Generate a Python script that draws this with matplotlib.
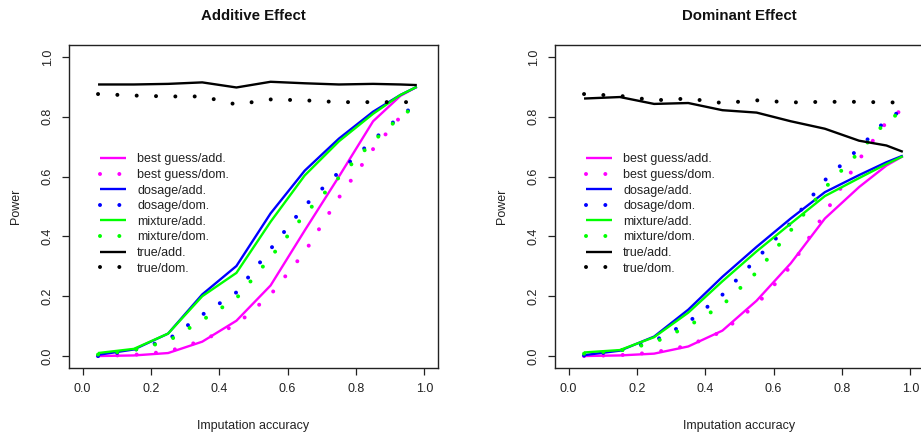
import matplotlib
matplotlib.use("Agg")
import matplotlib.pyplot as plt

plt.rcParams['font.family'] = ['Liberation Sans', 'DejaVu Sans']

# ---------------- data ----------------
acc_add = [0.045, 0.15, 0.25, 0.35, 0.45, 0.55, 0.65, 0.75, 0.85, 0.93, 0.978]
acc_dom = [0.045, 0.15, 0.25, 0.35, 0.45, 0.55, 0.65, 0.75, 0.85, 0.93, 0.967]

labels = ["best guess/add.", "best guess/dom.", "dosage/add.", "dosage/dom.",
          "mixture/add.", "mixture/dom.", "true/add.", "true/dom."]
colors = ["#FF00FF", "#FF00FF", "#0000FF", "#0000FF",
          "#00FF00", "#00FF00", "#000000", "#000000"]

# Additive effect panel
add_bestguess_add = [0.0, 0.002, 0.010, 0.048, 0.118, 0.236, 0.420, 0.600, 0.785, 0.870, 0.900]
add_bestguess_dom = [0.0, 0.004, 0.015, 0.052, 0.105, 0.205, 0.348, 0.530, 0.692, 0.800, 0.830]
add_dosage_add    = [0.004, 0.022, 0.075, 0.206, 0.301, 0.477, 0.620, 0.727, 0.817, 0.873, 0.900]
add_dosage_dom    = [0.0, 0.020, 0.055, 0.138, 0.213, 0.358, 0.502, 0.615, 0.722, 0.803, 0.833]
add_mixture_add   = [0.010, 0.024, 0.075, 0.200, 0.278, 0.449, 0.604, 0.718, 0.810, 0.873, 0.900]
add_mixture_dom   = [0.005, 0.020, 0.050, 0.120, 0.193, 0.330, 0.474, 0.597, 0.718, 0.800, 0.830]
add_true_add      = [0.908, 0.908, 0.910, 0.915, 0.898, 0.917, 0.912, 0.908, 0.910, 0.908, 0.906]
add_true_dom      = [0.876, 0.871, 0.868, 0.868, 0.841, 0.858, 0.855, 0.849, 0.849, 0.849, 0.849]

# Dominant effect panel
dom_bestguess_add = [0.0, 0.002, 0.008, 0.032, 0.085, 0.185, 0.310, 0.460, 0.565, 0.637, 0.668]
dom_bestguess_dom = [0.0, 0.003, 0.012, 0.035, 0.082, 0.172, 0.300, 0.478, 0.657, 0.782, 0.817]
dom_dosage_add    = [0.003, 0.018, 0.065, 0.155, 0.265, 0.365, 0.460, 0.548, 0.605, 0.648, 0.670]
dom_dosage_dom    = [0.002, 0.018, 0.050, 0.113, 0.205, 0.325, 0.445, 0.588, 0.695, 0.790, 0.816]
dom_mixture_add   = [0.012, 0.020, 0.063, 0.145, 0.250, 0.350, 0.443, 0.535, 0.595, 0.642, 0.668]
dom_mixture_dom   = [0.008, 0.018, 0.045, 0.100, 0.170, 0.280, 0.420, 0.562, 0.682, 0.785, 0.812]
dom_true_add      = [0.861, 0.866, 0.843, 0.846, 0.822, 0.814, 0.785, 0.760, 0.720, 0.704, 0.683]
dom_true_dom      = [0.876, 0.870, 0.855, 0.861, 0.846, 0.855, 0.848, 0.850, 0.850, 0.848, 0.848]

panels = [
    ("Additive Effect", [add_bestguess_add, add_bestguess_dom, add_dosage_add, add_dosage_dom,
                         add_mixture_add, add_mixture_dom, add_true_add, add_true_dom]),
    ("Dominant Effect", [dom_bestguess_add, dom_bestguess_dom, dom_dosage_add, dom_dosage_dom,
                         dom_mixture_add, dom_mixture_dom, dom_true_add, dom_true_dom]),
]
ticks = [0.0, 0.2, 0.4, 0.6, 0.8, 1.0]
tick_labels = ["0.0", "0.2", "0.4", "0.6", "0.8", "1.0"]

# ---------------- figure ----------------
W, H = 921, 434
fig = plt.figure(figsize=(W / 100, H / 100), dpi=100)

ax_w = 369 / W
ax_h = 323 / H
ax_b = 66 / H
lefts = [69 / W, 555 / W]

SOLID_LW = 1.7
DOT_LW = 2.9
DOT_STYLE = (0, (0.001, 4.8))
FS = 9

for (title, series), left in zip(panels, lefts):
    ax = fig.add_axes([left, ax_b, ax_w, ax_h])
    for i, (lab, col, y) in enumerate(zip(labels, colors, series)):
        if i % 2 == 0:
            ax.plot(acc_add, y, color=col, lw=SOLID_LW, label=lab, solid_capstyle='butt')
        else:
            ax.plot(acc_dom, y, color=col, lw=DOT_LW, ls=DOT_STYLE,
                    dash_capstyle='round', label=lab)
    ax.set_xlim(-0.04, 1.04)
    ax.set_ylim(-0.04, 1.04)
    ax.set_xticks(ticks)
    ax.set_xticklabels(tick_labels)
    ax.set_yticks(ticks)
    ax.set_yticklabels(tick_labels, rotation=90, va='center')
    ax.tick_params(axis='both', direction='out', length=5, width=0.9,
                   labelsize=FS, colors='#222222', pad=6)
    for sp in ax.spines.values():
        sp.set_linewidth(1.0)
        sp.set_color('#222222')
    ax.set_title(title, fontsize=10.8, fontweight='bold', pad=18, color='#111111')
    ax.set_xlabel("Imputation accuracy", fontsize=FS, labelpad=18, color='#222222')
    ax.set_ylabel("Power", fontsize=FS, labelpad=14, color='#222222')
    leg = ax.legend(loc='upper left', bbox_to_anchor=(0.05, 0.678), bbox_transform=ax.transData,
                    frameon=False, fontsize=FS, handlelength=2.1, handletextpad=0.9,
                    labelspacing=0.29, borderpad=0, borderaxespad=0)
    for t in leg.get_texts():
        t.set_color('#222222')

fig.savefig("out.png", dpi=100)
